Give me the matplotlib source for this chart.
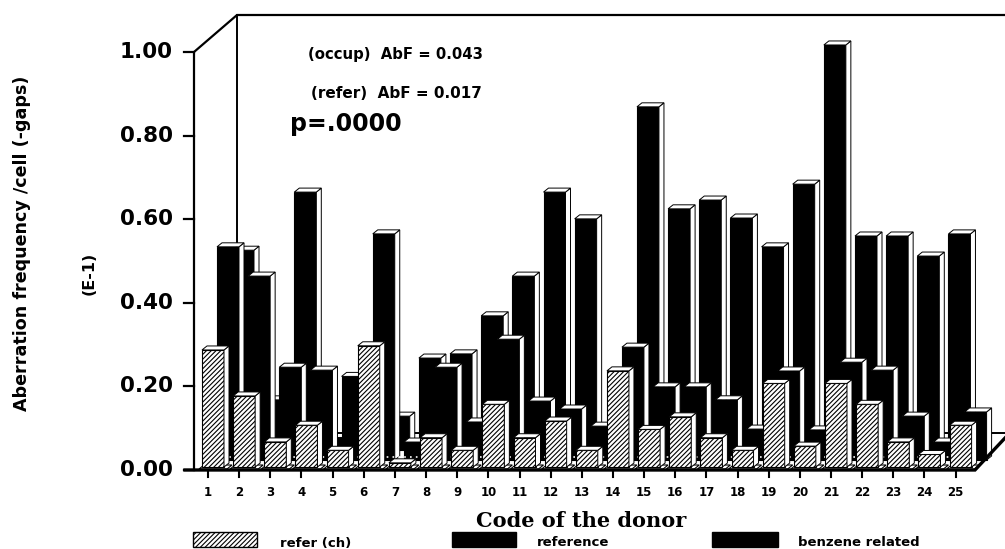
import matplotlib
matplotlib.use('Agg')
import matplotlib.pyplot as plt
from matplotlib.patches import Rectangle, Polygon

donors = list(range(1, 26))
refer_ch = [.28, .17, .06, .10, .04, .29, .01, .07, .04, .15, .07, .11, .04,
            .23, .09, .12, .07, .04, .20, .05, .20, .15, .06, .03, .10]
reference = [.51, .44, .222, .215, .20, .541, .043, .222, .091, .289, .141, .122, .081,
             .27, .175, .175, .144, .074, .213, .072, .234, .215, .105, .043, .115]
benzene = [.478, .12, .617, .03, .10, .081, .22, .23, .321, .416, .617, .553, .05,
           .821, .577, .598, .555, .486, .636, .969, .512, .512, .464, .517, 0]
y_ticks = [0, .2, .4, .6, .8, 1.0]
y_labels = ['0.00', '0.20', '0.40', '0.60', '0.80', '1.00']

W, H = 1005, 549
PXU = 418.0    # pixels for one unit of value
PXD = 31.15    # pixels between donors

plt.rcParams['hatch.linewidth'] = 0.8
fig = plt.figure(figsize=(W/100, H/100), dpi=100)
ax = fig.add_axes([0, 0, 1, 1])
ax.set_xlim(1-208/PXD, 1+(W-208)/PXD)
ax.set_ylim((470-H)/PXU, 470/PXU)
ax.axis('off')

def X(px):
    return 1+(px-208)/PXD

def Y(py):
    return (470-py)/PXU

dx = 5/PXD
dy = 4/PXU
face = 22/PXD

def bars(vals, off, base, z, hatch=None):
    for d, v in zip(donors, vals):
        if v <= 0:
            continue
        x0 = d+off/PXD
        b = Y(base)
        t = b+v
        if hatch:
            ax.add_patch(Rectangle((x0, b), face, v, fc='white', ec='black', lw=0.8, hatch=hatch, zorder=z))
        else:
            ax.add_patch(Rectangle((x0, b), face, v, fc='black', ec='black', lw=0.8, zorder=z))
        ax.add_patch(Polygon([(x0+face, b), (x0+face+dx, b+dy), (x0+face+dx, t+dy), (x0+face, t)],
                             fc='white', ec='black', lw=0.7, zorder=z))
        ax.add_patch(Polygon([(x0, t), (x0+dx, t+dy), (x0+face+dx, t+dy), (x0+face, t)],
                             fc='white', ec='black', lw=0.7, zorder=z))

# walls and floor
ax.plot([X(194), X(194), X(237), X(1005)], [0, 1, Y(15), Y(15)], color='black', lw=1.6, zorder=1, solid_joinstyle='miter')
ax.plot([X(237), X(237)], [Y(15), Y(433)], color='black', lw=1.4, zorder=1)
ax.plot([X(237), X(1005)], [Y(433), Y(433)], color='black', lw=1.4, zorder=1)
ax.plot([X(185), X(975), X(1005)], [0, 0, Y(438)], color='black', lw=2.4, zorder=20, solid_joinstyle='miter')

for t, lab in zip(y_ticks, y_labels):
    ax.plot([X(184), X(194)], [t, t], color='black', lw=1.6, zorder=2)
    ax.text(X(173), t, lab, ha='right', va='center', fontsize=15.5, fontweight='bold', family='DejaVu Sans')

bars(benzene, 24, 450, 3)
bars(reference, 9, 460, 5)

# dots along the floor behind the front row
ax.plot([X(200), X(975)], [Y(457), Y(457)], color='white', lw=1.2, ls=(0, (1, 2.5)), zorder=6)

# floor plates under the front row
for d in donors:
    x0 = d-9/PXD
    ax.add_patch(Polygon([(x0, Y(469)), (x0+28/PXD, Y(469)), (x0+33/PXD, Y(465)), (x0+5/PXD, Y(465))],
                         fc='white', ec='black', lw=0.8, zorder=7))
bars(refer_ch, -6, 467, 9, hatch='///////')

for d in donors:
    ax.plot([d, d], [0, Y(477)], color='black', lw=1.5, zorder=2)
    ax.text(d, Y(493), str(d), ha='center', va='center', fontsize=8.5, fontweight='bold', family='DejaVu Sans')

ax.text(X(395), Y(54), '(occup)  AbF = 0.043', ha='center', va='center', fontsize=10.7, fontweight='bold', family='DejaVu Sans')
ax.text(X(396), Y(93), '(refer)  AbF = 0.017', ha='center', va='center', fontsize=11, fontweight='bold', family='DejaVu Sans')
ax.text(X(290), Y(124), 'p=.0000', ha='left', va='center', fontsize=17, fontweight='bold', family='DejaVu Sans')

ax.text(X(22), Y(243), 'Aberration frequency /cell (-gaps)', rotation=90, ha='center', va='center',
        fontsize=12.6, fontweight='bold', family='DejaVu Sans')
ax.text(X(89), Y(273), '(E-1)', rotation=90, ha='center', va='center', fontsize=11.5, fontweight='bold', family='DejaVu Sans')
ax.text(X(581), Y(521), 'Code of the donor', ha='center', va='center', fontsize=15, fontweight='bold', family='DejaVu Serif')

# legend
leg_x = [193, 452, 712]
leg_w = [64, 64, 66]
leg_t = [280, 537, 798]
leg_s = ['refer (ch)', 'reference', 'benzene related']
leg_h = ['///////', None, None]
for x, w, tx, s, h in zip(leg_x, leg_w, leg_t, leg_s, leg_h):
    ax.add_patch(Rectangle((X(x), Y(547)), w/PXD, 15/PXU, fc='white' if h else 'black', ec='black', lw=1.0, hatch=h))
    ax.text(X(tx), Y(543), s, ha='left', va='center', fontsize=9.5, fontweight='bold', family='DejaVu Sans')

fig.savefig('out.png', dpi=100)
